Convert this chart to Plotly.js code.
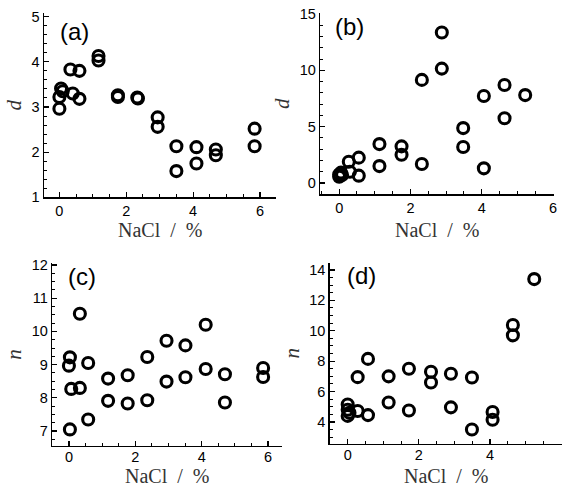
<!DOCTYPE html>
<html>
<head>
<meta charset="utf-8">
<script src="https://cdn.plot.ly/plotly-3.0.1.min.js"></script>
<style>html,body{margin:0;padding:0;background:#fff;}#chart{width:565px;height:487px;}</style>
</head>
<body>
<div id="chart"></div>
<script>
// Panel (a): d vs NaCl
const naclA = [0, 0, 0.05, 0.1, 0.33, 0.4, 0.6, 0.6, 1.17, 1.17, 1.75, 1.75, 2.33, 2.35, 2.94, 2.94, 3.5, 3.5, 4.1, 4.1, 4.68, 4.68, 5.84, 5.84];
const dA    = [3.22, 2.96, 3.41, 3.35, 3.83, 3.30, 3.80, 3.18, 4.13, 4.03, 3.26, 3.22, 3.21, 3.19, 2.77, 2.56, 2.13, 1.58, 2.11, 1.75, 2.06, 1.93, 2.52, 2.13];
// Panel (b): d vs NaCl
const naclB = [0, 0, 0.05, 0.08, 0.27, 0.3, 0.55, 0.55, 1.13, 1.13, 1.75, 1.75, 2.32, 2.32, 2.88, 2.88, 3.48, 3.48, 4.06, 4.06, 4.64, 4.64, 5.22];
const dB    = [0.55, 0.75, 0.92, 0.7, 1.88, 1.0, 2.25, 0.65, 3.45, 1.5, 3.25, 2.5, 9.15, 1.68, 13.35, 10.15, 4.87, 3.2, 7.72, 1.3, 8.7, 5.75, 7.8];
// Panel (c): n vs NaCl
const naclC = [0, 0.03, 0.07, 0.03, 0.33, 0.33, 0.58, 0.58, 1.18, 1.18, 1.77, 1.77, 2.36, 2.36, 2.94, 2.94, 3.51, 3.51, 4.12, 4.12, 4.7, 4.7, 5.85, 5.85];
const nC    = [8.97, 9.22, 8.27, 7.05, 8.3, 10.53, 9.05, 7.35, 8.58, 7.91, 8.68, 7.83, 9.23, 7.93, 9.72, 8.49, 9.58, 8.62, 10.2, 8.87, 8.71, 7.86, 8.9, 8.63];
// Panel (d): n vs NaCl
const naclD = [0, 0, 0, 0.05, 0.28, 0.28, 0.57, 0.57, 1.15, 1.15, 1.72, 1.72, 2.34, 2.34, 2.9, 2.9, 3.49, 3.49, 4.07, 4.07, 4.64, 4.64, 5.24];
const nD    = [5.15, 4.8, 4.4, 4.6, 6.95, 4.72, 8.15, 4.45, 7.0, 5.28, 7.5, 4.75, 7.3, 6.6, 7.17, 4.96, 6.93, 3.5, 4.66, 4.15, 10.38, 9.7, 13.4];

const panelLabels = ['(a)', '(b)', '(c)', '(d)'];
const xTitle = 'NaCl  /  %';
const yTitles = ['d', 'd', 'n', 'n'];

const marker = {symbol: 'circle-open', size: 11, color: '#000', line: {width: 3.1, color: '#000'}};
function tr(x, y, ax) {
  return {x: x, y: y, type: 'scatter', mode: 'markers', marker: marker,
          xaxis: 'x' + ax, yaxis: 'y' + ax, hoverinfo: 'skip', cliponaxis: false};
}
const data = [tr(naclA, dA, ''), tr(naclB, dB, '2'), tr(naclC, nC, '3'), tr(naclD, nD, '4')];

const tickFont = {family: 'Liberation Sans, Arial, sans-serif', size: 14.5, color: '#000'};
const titleFont = {family: 'Liberation Serif, Times New Roman, serif', size: 21, color: '#333'};
function xax(domain, range, anchor, standoff) {
  return {domain: domain, range: range, anchor: anchor, showline: true, linewidth: 1.5, linecolor: '#000',
    mirror: false, showgrid: false, zeroline: false, ticks: 'inside', ticklen: 5, tickwidth: 1.2, tickcolor: '#000',
    dtick: 2, tick0: 0, tickfont: tickFont, ticklabelstandoff: standoff,
    minor: {ticks: 'inside', dtick: 0.5, ticklen: 3, tickwidth: 1, tickcolor: '#000'}};
}
function yax(domain, range, anchor, dtick, mdt, t) {
  return {domain: domain, range: range, anchor: anchor, showline: true, linewidth: 1.5, linecolor: '#000',
    mirror: false, showgrid: false, zeroline: false, ticks: 'inside', ticklen: 5, tickwidth: 1.2, tickcolor: '#000',
    dtick: dtick, tick0: 0, tickfont: tickFont,
    minor: {ticks: 'inside', dtick: mdt, ticklen: 3, tickwidth: 1, tickcolor: '#000'},
    title: {text: '<i>' + t + '</i>', font: titleFont, standoff: 4}};
}

const labelFont = {family: 'Liberation Sans, Arial, sans-serif', size: 24, color: '#000'};
const panelAnn = [
  {text: panelLabels[0], x: 58/565, y: 1 - 31/487},
  {text: panelLabels[1], x: 333/565, y: 1 - 26/487},
  {text: panelLabels[2], x: 66/565, y: 1 - 276/487},
  {text: panelLabels[3], x: 345/565, y: 1 - 275/487}
].map(a => Object.assign(a, {xref: 'paper', yref: 'paper', xanchor: 'left', yanchor: 'middle', showarrow: false, font: labelFont}));
// x-axis titles as centred texts below each panel
const xTitleAnn = [
  {xref: 'x domain', yref: 'paper', y: 1 - 230/487},
  {xref: 'x2 domain', yref: 'paper', y: 1 - 230/487},
  {xref: 'x3 domain', yref: 'paper', y: 1 - 476/487},
  {xref: 'x4 domain', yref: 'paper', y: 1 - 476/487}
].map(a => Object.assign(a, {text: xTitle, x: 0.5, xanchor: 'center', yanchor: 'middle', showarrow: false,
    borderpad: 0, font: Object.assign({}, titleFont, {size: 20})}));

const layout = {
  width: 565, height: 487, margin: {l: 0, r: 0, t: 0, b: 0},
  paper_bgcolor: '#fff', plot_bgcolor: '#fff', showlegend: false,
  xaxis:  xax([0.0779, 0.4885], [-0.46, 6.48], 'y', 0),
  yaxis:  yax([0.5949, 0.9727], [1, 5.075], 'x', 1, 0.2, yTitles[0]),
  xaxis2: xax([0.5669, 0.9800], [-0.53, 6.02], 'y2', 0),
  yaxis2: yax([0.6016, 0.9727], [-0.98, 15.06], 'x2', 5, 1, yTitles[1]),
  xaxis3: xax([0.0926, 0.4986], [-0.5, 6.41], 'y3', -3),
  yaxis3: yax([0.0848, 0.4593], [6.56, 12.05], 'x3', 1, 0.25, yTitles[2]),
  xaxis4: xax([0.5835, 0.9947], [-0.506, 6.02], 'y4', -3),
  yaxis4: yax([0.0883, 0.4606], [2.55, 14.48], 'x4', 2, 0.5, yTitles[3]),
  annotations: panelAnn.concat(xTitleAnn)
};

Plotly.newPlot('chart', data, layout, {staticPlot: true, displayModeBar: false});
</script>
</body>
</html>
